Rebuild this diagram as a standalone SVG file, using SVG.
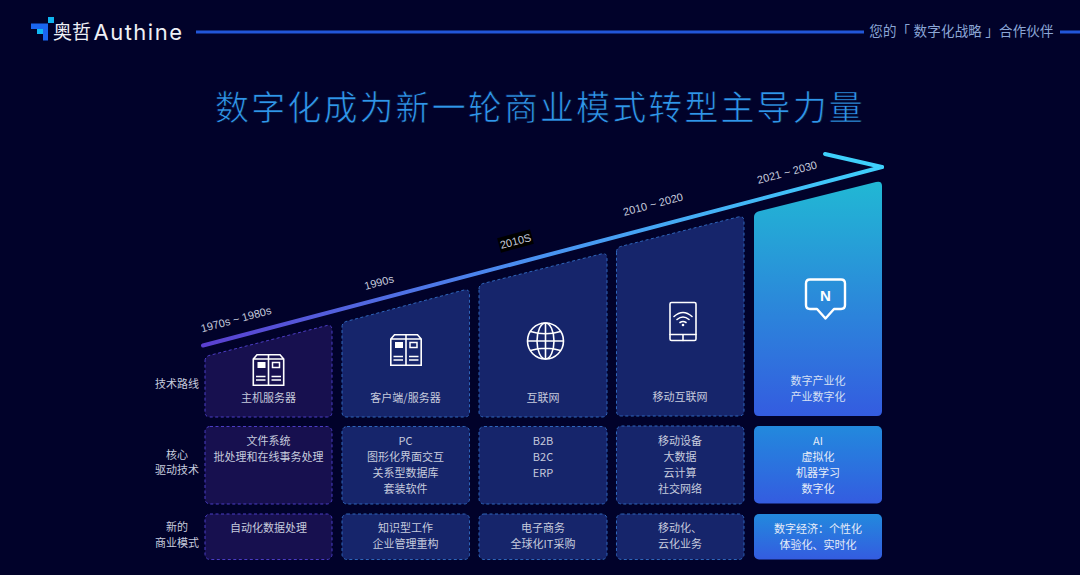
<svg xmlns="http://www.w3.org/2000/svg" width="1080" height="575" viewBox="0 0 1080 575">
<style>
text{font-family:"Noto Sans CJK SC","Liberation Sans",sans-serif;fill:#c6cbdd;font-size:11px;text-anchor:middle}
.lat{font-family:"Liberation Sans","Noto Sans CJK SC",sans-serif}
.v{fill:#17104f;stroke:#4b3dc4;stroke-width:1;stroke-dasharray:3 2.5}
.b{fill:#16256b;stroke:#2f66bb;stroke-width:1;stroke-dasharray:3 2.5}
.ic{fill:none;stroke:#fff;stroke-width:1.6}
.yr{font-size:11px}
</style>
<defs>
<linearGradient id="gl" gradientUnits="userSpaceOnUse" x1="203" y1="345" x2="883" y2="167"><stop offset="0" stop-color="#5a3fd0"/><stop offset=".45" stop-color="#4a8cf0"/><stop offset="1" stop-color="#3fd0fb"/></linearGradient>
<linearGradient id="g1" x1="0" y1="0" x2="0" y2="1"><stop offset="0" stop-color="#21b8d4"/><stop offset="1" stop-color="#345ce0"/></linearGradient>
<linearGradient id="g2" x1="0" y1="0" x2="0" y2="1"><stop offset="0" stop-color="#2289dd"/><stop offset="1" stop-color="#345ce0"/></linearGradient>
<g id="srv">
<path class="ic" d="M0.800,31.200V5L4.500,0.800H27.500L31.200,5V31.200ZM16,0.800V31.200M0.800,5H31.200"/>
<rect x="5" y="8" width="8" height="6" fill="#fff"/>
<rect x="20" y="8.500" width="7" height="5" fill="none" stroke="#fff" stroke-width="1.500"/>
<path class="ic" d="M3.500,22.500H13M3.500,26H13M19,22.500H28.500M19,26H28.500"/>
</g>
</defs>
<rect width="1080" height="575" fill="#01022a"/>

<g id="header">
<path d="M48,17h6v6h-6z" fill="#0fb4f0"/>
<path d="M31,23.500H48V40.500H43V34H37V29H31z" fill="#1a66f0"/>
<path d="M37,29h6v5h-6z" fill="#10b8f4"/>
<text x="72" y="39" style="font-size:19px;fill:#eef0f6">奥哲</text>
<text x="138.500" y="39.500" style="font-size:22px;fill:#eef0f6;font-family:'Inter','Liberation Sans',sans-serif;font-weight:400;letter-spacing:1.500px">Authine</text>
<path d="M196,32H864M1060,32H1080" stroke="#2256d8" stroke-width="3"/>
<text x="961.500" y="36" style="font-size:13.500px;fill:#8ba6d6;letter-spacing:.2px">您的「 数字化战略 」合作伙伴</text>
</g>

<text id="title" x="540" y="120" style="font-size:34px;fill:#2f96ea;letter-spacing:2.100px;stroke:#01022a;stroke-width:.7px">数字化成为新一轮商业模式转型主导力量</text>

<g id="connectors">
<path d="M203,345.500L882,167" stroke="url(#gl)" stroke-width="4" stroke-linecap="round" fill="none"/>
<path d="M825,154L882,167" stroke="#3fd0fb" stroke-width="4" stroke-linecap="round" fill="none"/>
</g>

<g id="years">
<text class="lat yr" transform="translate(237,323) rotate(-15)">1970s ~ 1980s</text>
<text class="lat yr" transform="translate(380,286) rotate(-15)">1990s</text>
<g transform="translate(515.500,241) rotate(-15)"><rect x="-17" y="-7.500" width="34" height="15" fill="#000"/><text class="lat yr" y="4">2010S</text></g>
<text class="lat yr" transform="translate(654,208) rotate(-15)">2010 ~ 2020</text>
<text class="lat yr" transform="translate(788,176) rotate(-15)">2021 ~ 2030</text>
</g>

<g id="rowlabels">
<text x="177" y="388">技术路线</text>
<text x="177" y="459">核心</text><text x="177" y="474">驱动技术</text>
<text x="177" y="531">新的</text><text x="177" y="547">商业模式</text>
</g>

<g id="node-1970s">
<path class="v" d="M205,361Q205,357 209,355.500L327,325.500Q332,324.500 332,330V412Q332,417 327,417H210Q205,417 205,412Z"/>
<use href="#srv" x="252.500" y="354"/>
<text x="268.500" y="402">主机服务器</text>
<rect class="v" x="205" y="426.500" width="127" height="77.500" rx="5"/>
<text x="268.500" y="445">文件系统</text><text x="268.500" y="461">批处理和在线事务处理</text>
<rect class="v" x="205" y="514" width="127" height="45.500" rx="5"/>
<text x="268.500" y="532">自动化数据处理</text>
</g>

<g id="node-1990s">
<path class="b" d="M342,327Q342,323 346,321.500L464,290Q469.500,289 469.500,294V412Q469.500,417 464.500,417H347Q342,417 342,412Z"/>
<use href="#srv" x="390" y="334"/>
<text x="405.500" y="402">客户端/服务器</text>
<rect class="b" x="342" y="426.500" width="127.500" height="77.500" rx="5"/>
<text x="405.500" y="445">PC</text><text x="405.500" y="461">图形化界面交互</text><text x="405.500" y="477">关系型数据库</text><text x="405.500" y="493">套装软件</text>
<rect class="b" x="342" y="514" width="127.500" height="45.500" rx="5"/>
<text x="405.500" y="532">知识型工作</text><text x="405.500" y="548">企业管理重构</text>
</g>

<g id="node-2010s">
<path class="b" d="M479,289Q479,285 483,283.500L601,254Q607,252.500 607,258V412Q607,417 602,417H484Q479,417 479,412Z"/>
<g class="ic" transform="translate(545.500,341)"><circle r="18"/><ellipse rx="8.500" ry="18"/><path d="M0,-18V18M-18,0H18M-15,-9.500Q0,-5 15,-9.500M-15,9.500Q0,5 15,9.500"/></g>
<text x="543" y="402">互联网</text>
<rect class="b" x="479" y="426.500" width="128" height="77.500" rx="5"/>
<text x="543" y="445">B2B</text><text x="543" y="461">B2C</text><text x="543" y="477">ERP</text>
<rect class="b" x="479" y="514" width="128" height="45.500" rx="5"/>
<text x="543" y="532">电子商务</text><text x="543" y="548">全球化IT采购</text>
</g>

<g id="node-2010-2020">
<path class="b" d="M616.500,252Q616.500,248 620.500,246.500L738,217Q744,215.500 744,221V411Q744,416 739,416H621.500Q616.500,416 616.500,411Z"/>
<g transform="translate(670,302.500)">
<rect class="ic" x="0" y="0" width="26" height="38" rx="1.500"/>
<path class="ic" d="M0,32H26M13,32V38M4,14Q13,6 22,14M7,17Q13,12 19,17M10,20Q13,18 16,20" stroke-linecap="round"/>
<circle cx="13" cy="22.500" r="1.300" fill="#fff"/>
</g>
<text x="680" y="401">移动互联网</text>
<rect class="b" x="616.500" y="426" width="127.500" height="78" rx="5"/>
<text x="680" y="445">移动设备</text><text x="680" y="461">大数据</text><text x="680" y="477">云计算</text><text x="680" y="493">社交网络</text>
<rect class="b" x="616.500" y="514" width="127.500" height="45.500" rx="5"/>
<text x="680" y="532">移动化、</text><text x="680" y="548">云化业务</text>
</g>

<g id="node-2021-2030">
<path fill="url(#g1)" d="M754,217Q754,213 758,211.500L876,182Q882,180.500 882,186V411Q882,416 877,416H759Q754,416 754,411Z"/>
<path d="M810,279.500H841Q845,279.500 845,283.500V305Q845,309 841,309H834L825.500,318.500L817,309H810Q806,309 806,305V283.500Q806,279.500 810,279.500Z" fill="none" stroke="#fff" stroke-width="2.400" stroke-linejoin="round"/>
<text class="lat" x="825.500" y="300.500" style="font-size:15px;font-weight:700;fill:#fff">N</text>
<text x="818" y="385" style="fill:#d6e0f4">数字产业化</text><text x="818" y="401" style="fill:#d6e0f4">产业数字化</text>
<rect fill="url(#g2)" x="754" y="426" width="128" height="77.500" rx="5"/>
<text x="818" y="445" style="fill:#e6ecf8">AI</text><text x="818" y="461" style="fill:#e6ecf8">虚拟化</text><text x="818" y="477" style="fill:#e6ecf8">机器学习</text><text x="818" y="493" style="fill:#e6ecf8">数字化</text>
<rect fill="url(#g2)" x="754" y="514" width="128" height="45.500" rx="5"/>
<text x="818" y="533" style="fill:#e6ecf8">数字经济：个性化</text><text x="818" y="549" style="fill:#e6ecf8">体验化、实时化</text>
</g>
</svg>
